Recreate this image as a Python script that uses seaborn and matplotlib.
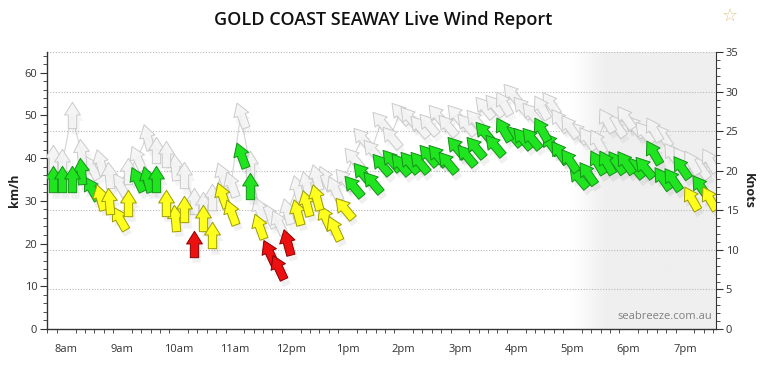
import numpy as np
import pandas as pd
import matplotlib
matplotlib.use("Agg")
import matplotlib.pyplot as plt
import seaborn as sns
from matplotlib.path import Path
from matplotlib.markers import MarkerStyle
from matplotlib.transforms import Affine2D, ScaledTranslation
from matplotlib.colors import LinearSegmentedColormap
import matplotlib.ticker as mticker

# observation times (local)
times = ["07:46", "07:56", "08:06", "08:16", "08:26", "08:36", "08:46", "08:56", "09:06", "09:16",
         "09:26", "09:36", "09:46", "09:56", "10:06", "10:16", "10:26", "10:36", "10:46", "10:56",
         "11:06", "11:16", "11:26", "11:36", "11:46", "11:56", "12:06", "12:16", "12:26", "12:36",
         "12:46", "12:56", "13:06", "13:16", "13:26", "13:36", "13:46", "13:56", "14:06", "14:16",
         "14:26", "14:36", "14:46", "14:56", "15:06", "15:16", "15:26", "15:36", "15:46", "15:56",
         "16:06", "16:16", "16:26", "16:36", "16:46", "16:56", "17:06", "17:16", "17:26", "17:36",
         "17:46", "17:56", "18:06", "18:16", "18:26", "18:36", "18:46", "18:56", "19:06", "19:16",
         "19:26"]

# average wind speed, km/h
speed_kmh = [35, 35, 35, 37, 33, 31, 30, 26, 29.5, 35,
             35, 35, 29.5, 26, 28, 20, 26, 22, 31.4, 27.4,
             40.8, 33.5, 24, 18, 14.5, 20.4, 27.4, 29.5, 31, 26.3,
             23.7, 28.4, 33.5, 36.6, 34.5, 38.5, 39.6, 38.5, 39, 39,
             40.8, 40.8, 39, 42.5, 40.8, 42.5, 46, 43, 46.7, 45.5,
             44.8, 44.8, 46.7, 43.6, 41.5, 39.6, 35.6, 36.6, 39, 39,
             39, 39, 37.8, 37.8, 41.5, 35.4, 35, 37.8, 30.7, 33.5,
             30.7]

# gusts, km/h
gust_kmh = [40, 39, 50, 41.5, 38, 39, 36, 34, 37, 40,
            45, 42, 41, 38, 36, 30, 29, 31, 36, 34,
            50, 38.5, 28, 26.7, 25, 27.5, 33, 34, 35.6, 35.4,
            33, 35, 40, 44.8, 42, 48.5, 45, 50.6, 49.7, 47.4,
            48, 50, 47.8, 50, 48, 49, 52, 52.5, 53, 55,
            52, 50.6, 52, 53, 49, 47.4, 46, 44.8, 44, 49,
            47.8, 49.5, 47.4, 46, 46.7, 45.5, 41, 40, 39, 38,
            39.6]

# direction the wind blows from, degrees
wind_from_deg = [180, 180, 180, 175, 150, 165, 175, 150, 180, 155,
                 165, 180, 180, 175, 180, 180, 180, 180, 160, 160,
                 160, 180, 160, 155, 155, 165, 165, 165, 165, 155,
                 155, 140, 140, 140, 140, 140, 140, 140, 140, 140,
                 140, 140, 140, 140, 140, 140, 140, 140, 150, 140,
                 140, 140, 150, 145, 145, 145, 140, 145, 150, 150,
                 145, 145, 140, 140, 150, 145, 145, 145, 150, 145,
                 150]

hour_ticks = [8, 9, 10, 11, 12, 13, 14, 15, 16, 17, 18, 19]
hour_labels = ["8am", "9am", "10am", "11am", "12pm", "1pm", "2pm", "3pm", "4pm", "5pm", "6pm", "7pm"]

KMH_PER_KNOT = 1.852

sns.set_style("white")
plt.rcParams['font.family'] = ['Open Sans', 'DejaVu Sans']

df = pd.DataFrame({"time": times, "speed": speed_kmh, "gust": gust_kmh, "dir": wind_from_deg})
t = pd.to_datetime(df["time"], format="%H:%M")
df["hour"] = t.dt.hour + t.dt.minute / 60
df["band"] = np.where(df["speed"] >= 32.5, "green", np.where(df["speed"] >= 21, "yellow", "red"))

fills = {"green": "#1fe41f", "yellow": "#ffff1f", "red": "#ec1010"}
edges = {"green": "#17901a", "yellow": "#9c9c00", "red": "#880000"}

# block arrow pointing up, centred on the origin
arrow_verts = [(0, 12), (7.2, 0.5), (3.8, 0.5), (3.8, -12), (-3.8, -12), (-3.8, 0.5), (-7.2, 0.5), (0, 12)]
arrow_codes = [Path.MOVETO] + [Path.LINETO] * 6 + [Path.CLOSEPOLY]
arrow_path = Path(arrow_verts, arrow_codes)


def arrow_marker(from_deg):
    return MarkerStyle(arrow_path, transform=Affine2D().rotate_deg(180 - from_deg))


xmin, xmax = 7.66, 19.55
ymax = 35 * KMH_PER_KNOT

fig = plt.figure(figsize=(7.67, 3.73), dpi=100)
ax = fig.add_axes([0.0613, 0.118, 0.872, 0.7425])

# evening shading
xs = np.linspace(xmin, xmax, 600)
u = np.clip((xs - 16.9) / 0.8, 0, 1)
shade = u * u * (3 - 2 * u)
ax.imshow(shade[None, :], extent=[xmin, xmax, 0, ymax], aspect="auto",
          cmap=LinearSegmentedColormap.from_list("sh", ["#ffffff", "#efefef"]),
          vmin=0, vmax=1, interpolation="bilinear", zorder=0)

for k in range(5, 36, 5):
    ax.axhline(k * KMH_PER_KNOT, color="#b8b8b8", lw=0.8, ls=(0, (1, 1.5)), zorder=1)

sns.lineplot(data=df, x="hour", y="gust", ax=ax, color="#d4d4d4", lw=0.8, zorder=2)

S = 360
shadow = ax.transData + ScaledTranslation(2 / 72, -4 / 72, fig.dpi_scale_trans)

for d, sub in df.groupby("dir"):
    mk = arrow_marker(d)
    sns.scatterplot(data=sub, x="hour", y="gust", ax=ax, marker=mk, s=S, color="#000000",
                    alpha=0.04, linewidth=0, transform=shadow, zorder=3)
    sns.scatterplot(data=sub, x="hour", y="gust", ax=ax, marker=mk, s=S, color="#f4f4f4",
                    edgecolor="#c6c6c6", linewidth=0.7, alpha=0.9, zorder=4)

for (d, band), sub in df.groupby(["dir", "band"]):
    mk = arrow_marker(d)
    sns.scatterplot(data=sub, x="hour", y="speed", ax=ax, marker=mk, s=S, color="#000000",
                    alpha=0.06, linewidth=0, transform=shadow, zorder=5)
    sns.scatterplot(data=sub, x="hour", y="speed", ax=ax, marker=mk, s=S, color=fills[band],
                    edgecolor=edges[band], linewidth=0.7, zorder=6)

ax.set_xlim(xmin, xmax)
ax.set_ylim(0, ymax)
ax.set_xticks(hour_ticks)
ax.set_xticklabels(hour_labels)
ax.xaxis.set_minor_locator(mticker.MultipleLocator(1 / 6))
ax.yaxis.set_major_locator(mticker.MultipleLocator(10))
ax.yaxis.set_minor_locator(mticker.MultipleLocator(2))
ax.set_xlabel("")
ax.set_ylabel("km/h", fontsize=9, fontweight="bold", color="#222222")
ax.yaxis.set_label_coords(-0.039, 0.5)

for s in ["top", "right"]:
    ax.spines[s].set_visible(False)
for s in ["left", "bottom"]:
    ax.spines[s].set_color("#333333")
    ax.spines[s].set_linewidth(1.0)

ax.tick_params(which="both", direction="out", color="#333333", labelcolor="#333333", labelsize=8)
ax.tick_params(which="major", length=5, width=0.8)
ax.tick_params(which="minor", length=3, width=0.6, left=True, bottom=True)
ax.tick_params(axis="x", which="major", pad=6)
ax.tick_params(axis="y", which="major", pad=2)

ax2 = ax.twinx()
ax2.set_ylim(0, 35)
ax2.yaxis.set_major_locator(mticker.MultipleLocator(5))
ax2.yaxis.set_minor_locator(mticker.MultipleLocator(1))
for s in ["top", "left", "bottom"]:
    ax2.spines[s].set_visible(False)
ax2.spines["right"].set_color("#333333")
ax2.tick_params(which="both", direction="out", color="#333333", labelcolor="#333333", labelsize=8)
ax2.tick_params(which="major", length=5, width=0.8, pad=2)
ax2.tick_params(which="minor", length=3, width=0.6, right=True)
ax2.set_ylabel("Knots", fontsize=9, fontweight="bold", color="#222222", rotation=-90)
ax2.yaxis.set_label_coords(1.058, 0.5)
ax2.grid(False)

ax.text(0.994, 0.025, "seabreeze.com.au", transform=ax.transAxes, ha="right", va="bottom",
        fontsize=8, color="#808080", zorder=10)

fig.text(0.5, 0.946, "GOLD COAST SEAWAY Live Wind Report", ha="center", va="center",
         fontsize=13, fontweight="semibold", color="#111111")
fig.text(0.952, 0.958, "\u2606", ha="center", va="center", fontsize=13, color="#e2c98f",
         family="DejaVu Sans")

fig.savefig("out.png", dpi=100)
